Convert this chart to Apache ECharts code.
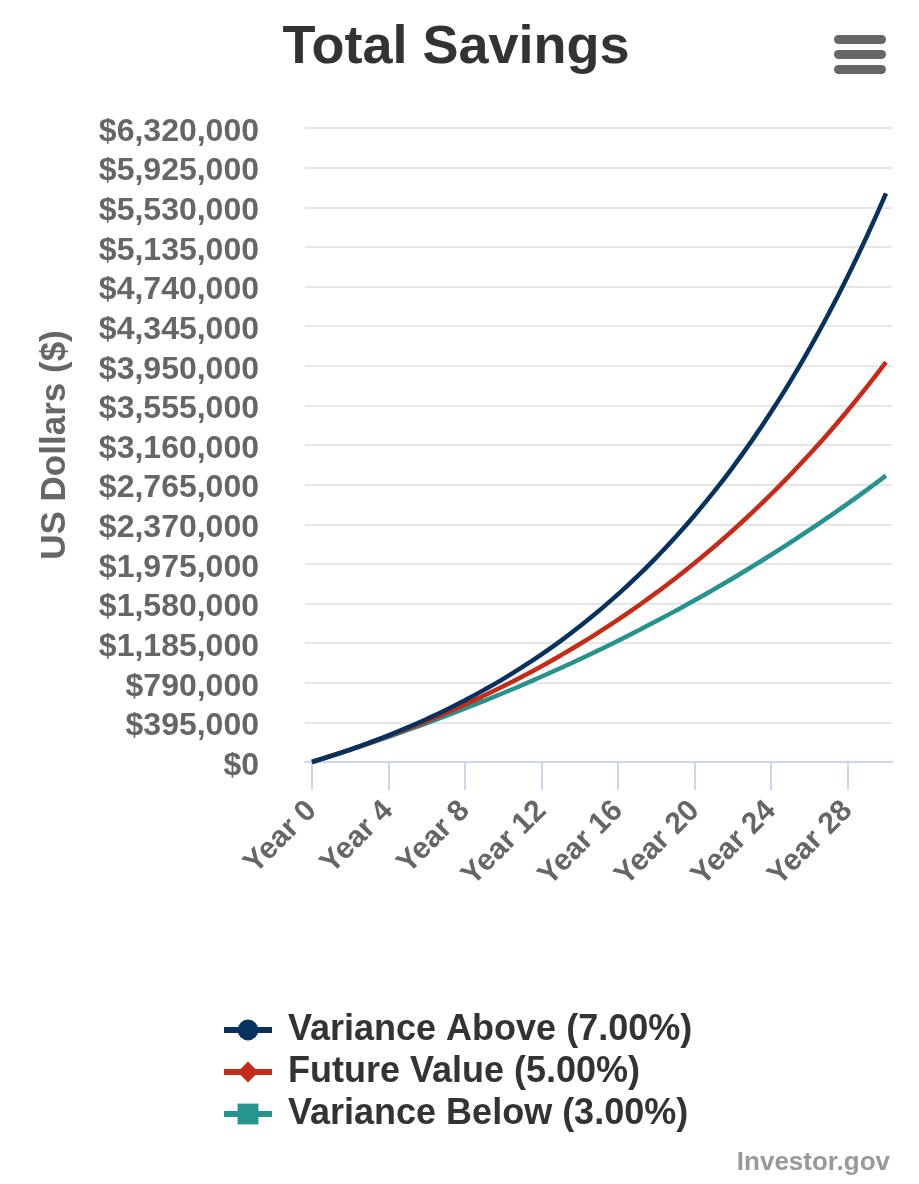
<!DOCTYPE html>
<html>
<head>
<meta charset="utf-8">
<script src="https://cdn.jsdelivr.net/npm/echarts@6/dist/echarts.min.js"></script>
<style>
  html, body { margin: 0; padding: 0; background: #fff; }
  #chart { width: 919px; height: 1184px; }
</style>
</head>
<body>
<div id="chart"></div>
<script>
// values (US dollars, year 0 .. year 30)
const years = [0, 1, 2, 3, 4, 5, 6, 7, 8, 9, 10, 11, 12, 13, 14, 15, 16, 17, 18, 19, 20,
  21, 22, 23, 24, 25, 26, 27, 28, 29, 30];
const yearTicks = [0, 4, 8, 12, 16, 20, 24, 28];

const varianceAbove = [0, 60000, 124000, 193000, 266000, 345000, 429000, 519000, 616000, 719000, 829000,
  947000, 1073000, 1208000, 1353000, 1508000, 1673000, 1850000, 2040000, 2243000, 2460000,
  2692000, 2940000, 3206000, 3491000, 3795000, 4121000, 4469000, 4842000, 5241000, 5668000];
const futureValue = [0, 60000, 123000, 189000, 259000, 332000, 408000, 489000, 573000, 662000, 755000,
  852000, 955000, 1063000, 1176000, 1295000, 1419000, 1550000, 1688000, 1832000, 1984000,
  2143000, 2310000, 2486000, 2670000, 2864000, 3067000, 3280000, 3504000, 3739000, 3986000];
const varianceBelow = [0, 60000, 122000, 185000, 251000, 319000, 388000, 460000, 534000, 610000, 688000,
  768000, 852000, 937000, 1025000, 1116000, 1209000, 1306000, 1405000, 1507000, 1612000,
  1721000, 1832000, 1947000, 2066000, 2188000, 2313000, 2443000, 2576000, 2713000, 2855000];

const seriesNames = ['Variance Above (7.00%)', 'Future Value (5.00%)', 'Variance Below (3.00%)'];
const colors = ['#07325f', '#c42c17', '#26938f'];
const symbols = ['circle', 'diamond', 'rect'];

const yMax = 6320000;
const yStep = 395000;

let myChart = echarts.init(document.getElementById('chart'));

function pairs(arr) {
  return years.map((y, i) => [y, arr[i]]);
}

const font = 'Liberation Sans, Arial, sans-serif';

let option = {
  backgroundColor: '#fff',
  animation: false,
  textStyle: { fontFamily: font },
  title: {
    text: 'Total Savings',
    left: 451,
    textAlign: 'center',
    top: 16,
    textStyle: { fontSize: 54, fontWeight: 'bold', color: '#333' }
  },
  grid: { left: 305, right: 27, top: 128, bottom: 422 },
  xAxis: {
    type: 'value',
    min: -0.366,
    max: 30.314,
    axisLine: { show: true, lineStyle: { color: '#ccd6eb', width: 2 } },
    axisTick: {
      show: true,
      customValues: yearTicks,
      length: 28,
      lineStyle: { color: '#ccd6eb', width: 2 }
    },
    axisLabel: {
      customValues: yearTicks,
      rotate: 45,
      margin: 44,
      fontSize: 30,
      fontWeight: 'bold',
      color: '#666',
      formatter: v => 'Year ' + v
    },
    splitLine: { show: false }
  },
  yAxis: {
    type: 'value',
    min: 0,
    max: yMax,
    interval: yStep,
    name: 'US Dollars ($)',
    nameLocation: 'middle',
    nameRotate: 90,
    nameGap: 232,
    nameTextStyle: { fontSize: 35, fontWeight: 'bold', color: '#666' },
    axisLine: { show: false },
    axisTick: { show: false },
    axisLabel: {
      margin: 46,
      fontSize: 32,
      fontWeight: 'bold',
      color: '#666',
      verticalAlign: 'top',
      lineHeight: 32,
      padding: [-12, 0, 0, 0],
      formatter: v => '$' + v.toLocaleString('en-US')
    },
    splitLine: { lineStyle: { color: '#e6e6e6', width: 2 } }
  },
  legend: {
    orient: 'vertical',
    left: 216,
    top: 1007,
    itemWidth: 48,
    itemHeight: 26,
    itemGap: 6,
    lineStyle: { width: 6 },
    textStyle: { fontSize: 36, fontWeight: 'bold', color: '#333', padding: [0, 0, 0, 11] },
    data: seriesNames
  },
  graphic: [
    { type: 'rect', left: 834, top: 35, shape: { width: 52, height: 9, r: 4.5 }, style: { fill: '#666' } },
    { type: 'rect', left: 834, top: 50, shape: { width: 52, height: 9, r: 4.5 }, style: { fill: '#666' } },
    { type: 'rect', left: 834, top: 65, shape: { width: 52, height: 9, r: 4.5 }, style: { fill: '#666' } },
    {
      type: 'text', right: 29, top: 1150,
      style: { text: 'Investor.gov', fontSize: 26, fontWeight: 'bold', fill: '#999', fontFamily: font }
    }
  ],
  series: [
    { name: seriesNames[0], data: pairs(varianceAbove) },
    { name: seriesNames[1], data: pairs(futureValue) },
    { name: seriesNames[2], data: pairs(varianceBelow) }
  ].map((s, i) => Object.assign(s, {
    type: 'line',
    smooth: true,
    showSymbol: false,
    symbol: symbols[i],
    symbolSize: 22,
    color: colors[i],
    lineStyle: { width: 4.5, color: colors[i] },
    z: 3 - i
  }))
};

myChart.setOption(option, true);
</script>
</body>
</html>
